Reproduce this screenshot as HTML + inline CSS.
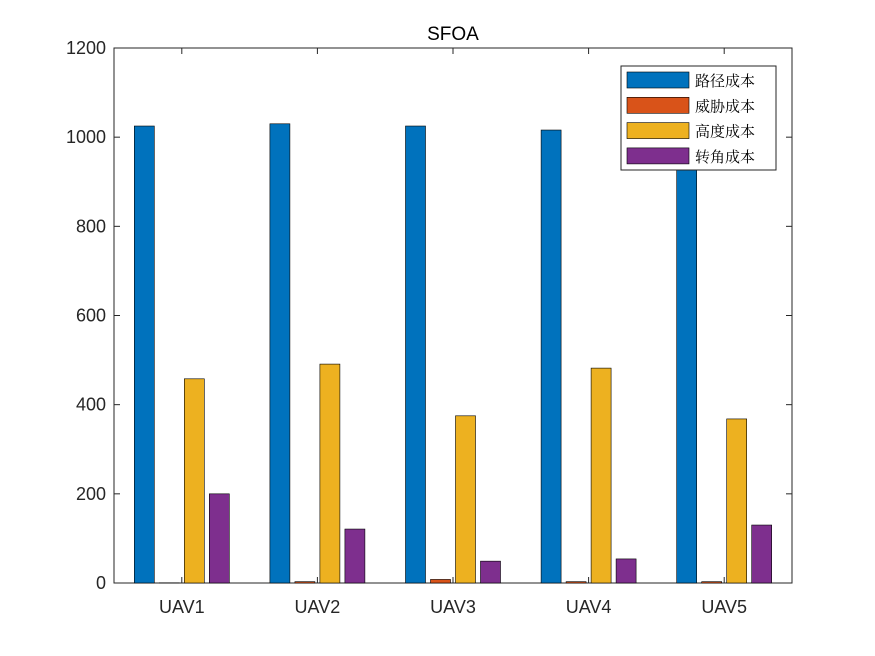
<!DOCTYPE html>
<html><head><meta charset="utf-8"><style>
body{margin:0;background:#fff;}
svg{display:block;font-family:"Liberation Sans","Noto Sans CJK SC",sans-serif;}
</style></head><body>
<svg id="chart" width="875" height="656"></svg>
<script>
const categories=["UAV1","UAV2","UAV3","UAV4","UAV5"];
const pathCost=[1025,1030,1025,1016,1022];
const threatCost=[0.5,3,8,3,3];
const heightCost=[458,491,375,482,368];
const turnCost=[200,121,49,54,130];
const seriesNames=["路径成本","威胁成本","高度成本","转角成本"];
const yTicks=[0,200,400,600,800,1000,1200];
const colors=["#0072BD","#D95319","#EDB120","#7E2F8E"];
const series=[pathCost,threatCost,heightCost,turnCost];
const svg=document.getElementById('chart');
const NS="http://www.w3.org/2000/svg";
const L=114,R=792,T=48,B=583;
function y(v){return B-(v/1200)*(B-T);}
function xc(i){return L+(R-L)*(i+0.5)/categories.length;}
function mk(tag,attrs,parent){const e=document.createElementNS(NS,tag);for(const k in attrs)e.setAttribute(k,attrs[k]);(parent||svg).appendChild(e);return e;}
const title=mk('text',{x:453,y:40,'text-anchor':'middle','font-size':19,fill:'#000'});
title.textContent='SFOA';


const axes=mk('rect',{x:L,y:T,width:R-L,height:B-T,fill:'#fff',stroke:'#262626','stroke-width':1});


yTicks.forEach(t=>{
  mk('line',{x1:L,x2:L+6,y1:y(t),y2:y(t),stroke:'#262626'});
  mk('line',{x1:R,x2:R-6,y1:y(t),y2:y(t),stroke:'#262626'});
  const tx=mk('text',{x:L-8,y:y(t)+6,'text-anchor':'end','font-size':18,fill:'#262626'});
  tx.textContent=t;
  
  
});
const bw=20,pitch=25;
categories.forEach((c,i)=>{
  mk('line',{x1:xc(i),x2:xc(i),y1:B,y2:B-6,stroke:'#262626'});
  mk('line',{x1:xc(i),x2:xc(i),y1:T,y2:T+6,stroke:'#262626'});
  const tx=mk('text',{x:xc(i),y:B+30,'text-anchor':'middle','font-size':18,fill:'#262626'});
  tx.textContent=c;
  
  
  series.forEach((s,j)=>{
    const x0=xc(i)+(j-1.5)*pitch-bw/2;
    const r=mk('rect',{x:x0,y:y(s[i]),width:bw,height:B-y(s[i]),fill:colors[j],stroke:'#000','stroke-width':0.6});
    
    
  });
});
const lg=mk('g',{});


mk('rect',{x:621,y:66,width:155,height:104,fill:'#fff',stroke:'#262626','stroke-width':1},lg);
seriesNames.forEach((n,j)=>{
  const yy=80+j*25.3;
  const sw=mk('rect',{x:627,y:yy-8,width:62,height:16,fill:colors[j],stroke:'#000','stroke-width':0.6},lg);
  
  
  const t=mk('text',{x:695,y:yy+6,'font-size':15,fill:'#000','font-family':'"Noto Serif CJK SC",serif'},lg);
  t.textContent=n;
  
  
});
</script>
</body></html>
